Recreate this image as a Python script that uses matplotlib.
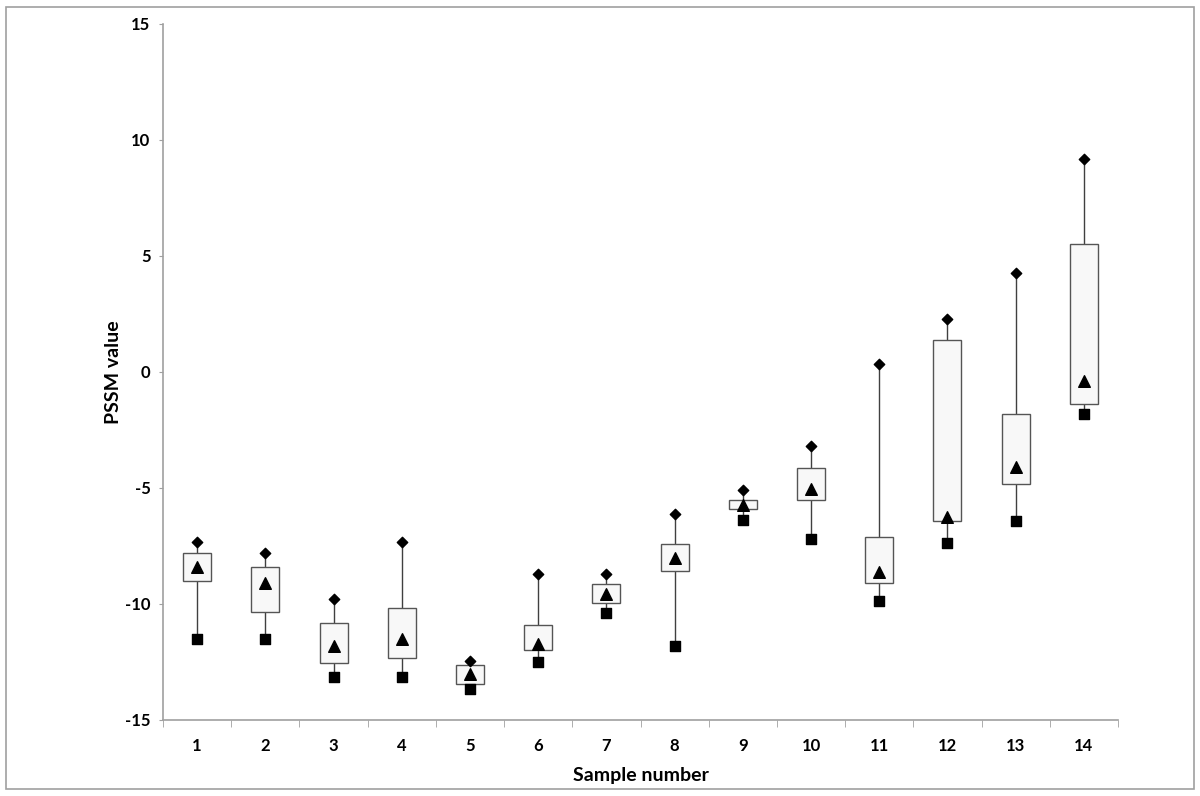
import numpy as np
import matplotlib.pyplot as plt
from matplotlib.patches import Rectangle

plt.rcParams['font.family'] = ['Lato', 'DejaVu Sans']
plt.rcParams['axes.unicode_minus'] = False

samples = list(range(1, 15))
max_v = [-7.33, -7.80, -9.78, -7.33, -12.46, -8.71, -8.71, -6.12, -5.09, -3.19, 0.34, 2.28, 4.27, 9.18]
q3_v = [-7.80, -8.41, -10.82, -10.17, -12.63, -10.91, -9.14, -7.41, -5.52, -4.14, -7.11, 1.38, -1.81, 5.52]
q1_v = [-9.01, -10.34, -12.54, -12.33, -13.45, -11.98, -9.96, -8.58, -5.90, -5.52, -9.09, -6.42, -4.83, -1.38]
mid_v = [-8.41, -9.09, -11.81, -11.51, -13.00, -11.72, -9.57, -8.00, -5.73, -5.04, -8.62, -6.25, -4.09, -0.39]
min_v = [-11.51, -11.51, -13.15, -13.15, -13.66, -12.50, -10.39, -11.81, -6.38, -7.20, -9.87, -7.37, -6.42, -1.81]

axis_grey = '#a0a0a0'


def main():
    fig = plt.figure(figsize=(12, 7.96), dpi=100)
    ax = fig.add_axes([163 / 1200, 1 - 720 / 796, (1118 - 163) / 1200, (720 - 24) / 796])

    # outer frame like the Excel chart area
    fig.patches.append(Rectangle((6 / 1200, 1 - 789 / 796), 1188 / 1200, 782 / 796,
                                 transform=fig.transFigure, fill=False,
                                 edgecolor='#a0a0a0', linewidth=1.2))

    x = np.array(samples)
    w = 0.41
    for i in range(len(samples)):
        ax.plot([x[i], x[i]], [min_v[i], max_v[i]], color='#404040', lw=1.0, zorder=1)
        ax.add_patch(Rectangle((x[i] - w / 2, q1_v[i]), w, q3_v[i] - q1_v[i],
                               facecolor='#f8f8f8', edgecolor='#555555', lw=1.0, zorder=2))
    ax.scatter(x, max_v, marker='D', s=28, color='black', zorder=3)
    ax.scatter(x, min_v, marker='s', s=60, color='black', zorder=3)
    ax.scatter(x, mid_v, marker='^', s=70, color='black', zorder=3)

    ax.set_xlim(0.5, 14.5)
    ax.set_ylim(-15, 15)
    ax.set_yticks([-15, -10, -5, 0, 5, 10, 15])
    ax.set_xticks(x)
    ax.set_xticklabels([str(s) for s in samples], fontsize=12, fontweight='bold')
    ax.set_xticks(np.arange(0.5, 15, 1), minor=True)
    for lab in ax.get_yticklabels():
        lab.set_fontsize(12)
        lab.set_fontweight('bold')
    ax.tick_params(axis='x', which='major', length=0, pad=13)
    ax.tick_params(axis='x', which='minor', length=5, color=axis_grey, direction='out')
    ax.tick_params(axis='y', length=3, color=axis_grey, direction='out', pad=6)

    for s in ['top', 'right']:
        ax.spines[s].set_visible(False)
    for s in ['left', 'bottom']:
        ax.spines[s].set_color(axis_grey)
        ax.spines[s].set_linewidth(1.2)

    ax.set_xlabel('Sample number', fontsize=14, fontweight='bold', labelpad=9)
    ax.set_ylabel('PSSM value', fontsize=14, fontweight='bold', labelpad=2)

    fig.savefig('out.png', dpi=100)


if __name__ == '__main__':
    main()
